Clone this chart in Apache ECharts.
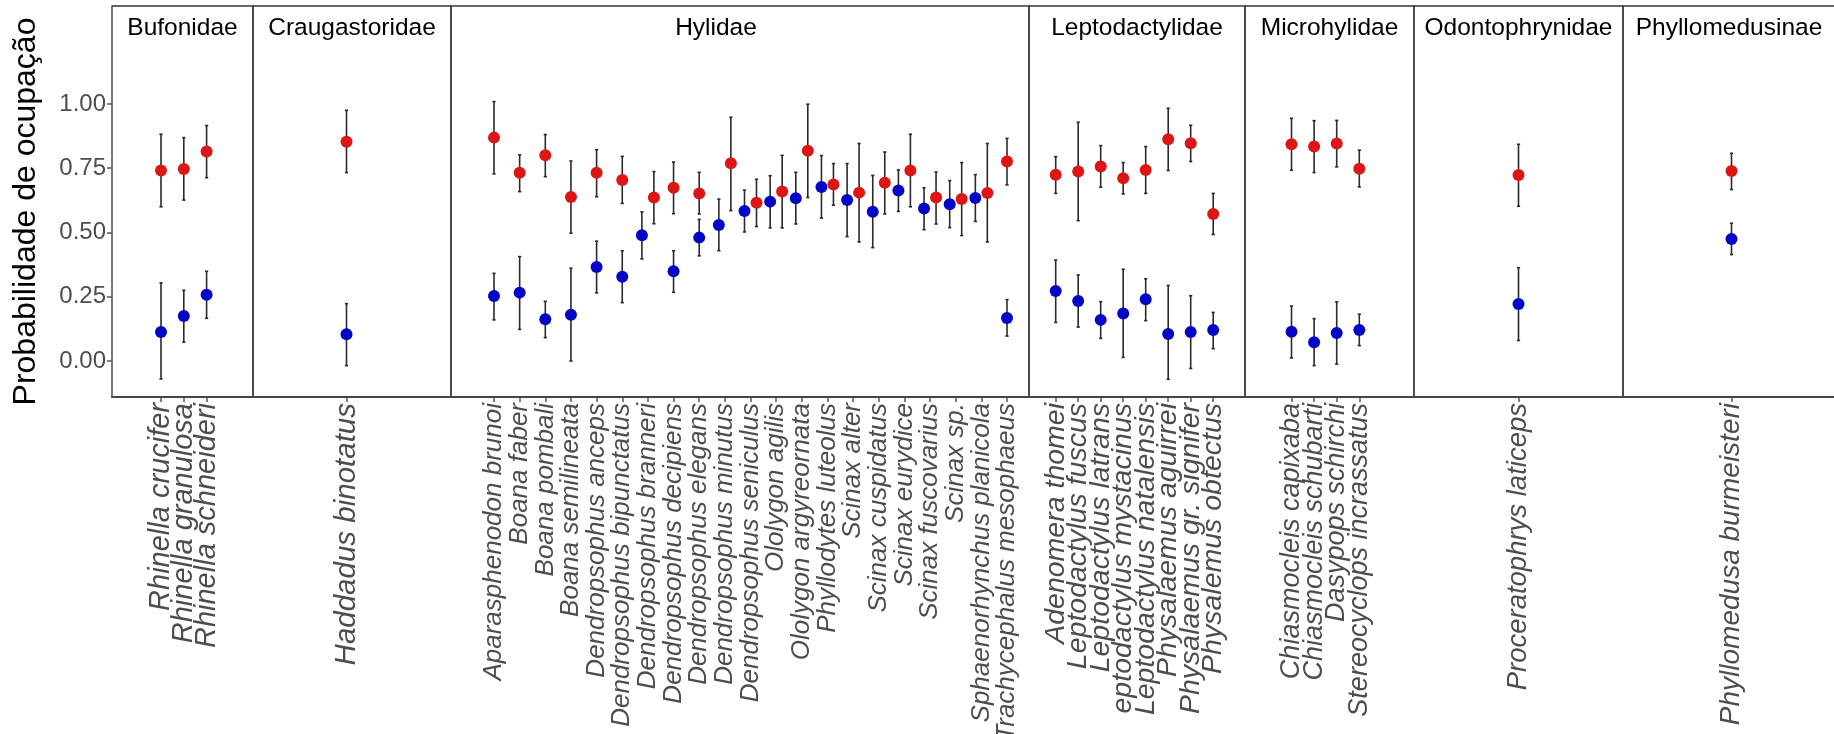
<!DOCTYPE html>
<html>
<head>
<meta charset="utf-8">
<script src="https://cdn.jsdelivr.net/npm/echarts@6/dist/echarts.min.js"></script>
<style>
html,body{margin:0;padding:0;background:#fff;}
#chart{width:1834px;height:734px;}
</style>
</head>
<body>
<div id="chart"></div>
<script>
// ---------------- DATA ----------------
const families = ['Bufonidae','Craugastoridae','Hylidae','Leptodactylidae','Microhylidae','Odontophrynidae','Phyllomedusinae'];

const species = [
  'Rhinella crucifer','Rhinella granulosa','Rhinella schneideri',
  'Haddadus binotatus',
  'Aparasphenodon brunoi','Boana faber','Boana pombali','Boana semilineata','Dendropsophus anceps',
  'Dendropsophus bipunctatus','Dendropsophus branneri','Dendropsophus decipiens','Dendropsophus elegans',
  'Dendropsophus minutus','Dendropsophus seniculus','Ololygon agilis','Ololygon argyreornata',
  'Phyllodytes luteolus','Scinax alter','Scinax cuspidatus','Scinax eurydice','Scinax fuscovarius',
  'Scinax sp.','Sphaenorhynchus planicola','Trachycephalus mesophaeus',
  'Adenomera thomei','Leptodactylus fuscus','Leptodactylus latrans','eptodactylus mystacinus',
  'Leptodactylus natalensis','Physalaemus aguirrei','Physalaemus gr. signifer','Physalemus obtectus',
  'Chiasmocleis capixaba','Chiasmocleis schubarti','Dasypops schirchi','Stereocyclops incrassatus',
  'Proceratophrys laticeps',
  'Phyllomedusa burmeisteri'
];

const speciesFamily = [
  'Bufonidae','Bufonidae','Bufonidae',
  'Craugastoridae',
  'Hylidae','Hylidae','Hylidae','Hylidae','Hylidae','Hylidae','Hylidae','Hylidae','Hylidae','Hylidae','Hylidae',
  'Hylidae','Hylidae','Hylidae','Hylidae','Hylidae','Hylidae','Hylidae','Hylidae','Hylidae','Hylidae',
  'Leptodactylidae','Leptodactylidae','Leptodactylidae','Leptodactylidae','Leptodactylidae','Leptodactylidae','Leptodactylidae','Leptodactylidae',
  'Microhylidae','Microhylidae','Microhylidae','Microhylidae',
  'Odontophrynidae',
  'Phyllomedusinae'
];

// red series (estimate + interval)
const redMean = [0.741,0.747,0.815, 0.853,
  0.869,0.732,0.800,0.638,0.732,0.704,0.636,0.674,0.652,0.769,0.616,0.659,0.818,0.687,0.655,0.693,0.741,0.636,0.630,0.654,0.776,
  0.725,0.737,0.757,0.711,0.743,0.863,0.847,0.572,
  0.843,0.834,0.846,0.748,
  0.724,
  0.739];
const redLow = [0.600,0.626,0.713, 0.733,
  0.728,0.659,0.717,0.497,0.639,0.613,0.534,0.573,0.572,0.585,0.523,0.518,0.636,0.606,0.463,0.572,0.600,0.533,0.488,0.463,0.685,
  0.652,0.546,0.676,0.650,0.652,0.741,0.776,0.492,
  0.742,0.733,0.755,0.677,
  0.602,
  0.667];
const redHigh = [0.882,0.869,0.916, 0.975,
  1.009,0.802,0.881,0.778,0.822,0.796,0.737,0.774,0.734,0.948,0.707,0.800,0.999,0.768,0.846,0.813,0.882,0.735,0.772,0.846,0.866,
  0.795,0.929,0.838,0.772,0.834,0.983,0.917,0.652,
  0.944,0.935,0.936,0.820,
  0.843,
  0.808];

// blue series (estimate + interval)
const blueMean = [0.113,0.175,0.258, 0.104,
  0.253,0.266,0.162,0.180,0.366,0.328,0.489,0.349,0.480,0.529,0.584,0.620,0.633,0.677,0.626,0.581,0.663,0.593,0.610,0.634,0.167,
  0.272,0.233,0.160,0.185,0.240,0.105,0.113,0.121,
  0.114,0.073,0.109,0.121,
  0.222,
  0.475];
const blueLow = [-0.070,0.073,0.166, -0.018,
  0.160,0.123,0.091,0.000,0.265,0.227,0.397,0.267,0.409,0.429,0.502,0.518,0.533,0.556,0.484,0.441,0.582,0.511,0.519,0.543,0.097,
  0.150,0.132,0.088,0.014,0.157,-0.071,-0.029,0.048,
  0.012,-0.018,-0.012,0.060,
  0.080,
  0.414];
const blueHigh = [0.304,0.275,0.349, 0.223,
  0.341,0.406,0.232,0.361,0.466,0.429,0.580,0.429,0.551,0.630,0.665,0.721,0.734,0.799,0.768,0.722,0.743,0.674,0.702,0.725,0.239,
  0.393,0.335,0.231,0.357,0.320,0.294,0.254,0.189,
  0.214,0.165,0.230,0.182,
  0.363,
  0.536];

const yTicks = [0, 0.25, 0.5, 0.75, 1];
const yTitle = 'Probabilidade de ocupação';

// ---------------- LAYOUT / STYLE ----------------
// panel: [frame left px, frame width px, x of first tick px, tick step px, label font px]
const panelLayout = [
  [112,141,161,22.8,29],[253,198,346.5,100,29.5],[451,578,494,25.65,26],[1029,216,1055.7,22.5,28.5],
  [1245,169,1291.5,22.6,27],[1414,209,1518.5,100,27.5],[1623,218,1731.5,100,28]
];
const titleX = [182.5,352,716,1137,1329.5,1518.5,1729];
const TOP = 6, HEIGHT = 391;
const Y_MIN = -0.14, Y_MAX = 1.381;
const FONT = '"Liberation Sans", Arial, Helvetica, sans-serif';
const RED = '#dd1515', BLUE = '#0505c8', BAR = '#2a2a2a';
const DODGE = 6;
const NP = families.length;

const grids = [], xAxes = [], yAxes = [], series = [];

// frame grids (panel borders, bottom axis line, y axis labels)
families.forEach((fam, k) => {
  const [L, W] = panelLayout[k];
  grids.push({left: L, top: TOP, width: W, height: HEIGHT, show: true,
    outerBoundsMode: 'none', containLabel: false,
    borderColor: '#333', borderWidth: 1.3, backgroundColor: 'transparent'});
  xAxes.push({gridIndex: k, type: 'value', min: 0, max: 1,
    axisLine: {show: true, onZero: false, lineStyle: {color: '#444', width: 2}},
    axisTick: {show: false}, axisLabel: {show: false}, splitLine: {show: false}});
  yAxes.push({gridIndex: k, type: 'value', min: Y_MIN, max: Y_MAX, show: k === 0,
    axisLine: {show: false, onZero: false},
    axisTick: {show: true, customValues: yTicks, length: 5, lineStyle: {color: '#555', width: 1.5}},
    axisLabel: {customValues: yTicks, margin: 6, formatter: v => v.toFixed(2),
      fontSize: 24, color: '#4d4d4d', fontFamily: FONT},
    splitLine: {show: false}});
});

// data grids (category axes spanning the ticks of each panel)
families.forEach((fam, k) => {
  const idx = species.map((s, i) => i).filter(i => speciesFamily[i] === fam);
  const names = idx.map(i => species[i]);
  const [L, W, p0, step, fs] = panelLayout[k];
  const g = NP + k;

  grids.push({left: p0 - step / 2, top: TOP, width: names.length * step, height: HEIGHT, show: false,
    outerBoundsMode: 'none', containLabel: false});

  xAxes.push({
    gridIndex: g, type: 'category', data: names, boundaryGap: true,
    axisLine: {show: false, onZero: false},
    axisTick: {show: true, alignWithLabel: true, interval: 0, length: 5, lineStyle: {color: '#555', width: 1.5}},
    axisLabel: {interval: 0, rotate: 90, margin: 6, hideOverlap: false,
      fontSize: fs, fontStyle: 'italic', color: '#4d4d4d', fontFamily: FONT},
    splitLine: {show: false}
  });
  yAxes.push({gridIndex: g, type: 'value', min: Y_MIN, max: Y_MAX, show: false});

  // dodge the two estimates apart when their intervals overlap
  const dodge = idx.map(i => (redLow[i] <= blueHigh[i] && blueLow[i] <= redHigh[i]) ? DODGE : 0);

  const barData = [];
  idx.forEach((i, j) => {
    barData.push([j, blueLow[i], blueHigh[i], -dodge[j]]);
    barData.push([j, redLow[i], redHigh[i], dodge[j]]);
  });

  series.push({
    type: 'custom', xAxisIndex: g, yAxisIndex: g, silent: true, clip: false, z: 1,
    encode: {x: 0, y: [1, 2]},
    renderItem: (params, api) => {
      const x = api.value(0), dx = api.value(3);
      const a = api.coord([x, api.value(1)]), b = api.coord([x, api.value(2)]);
      const cx = a[0] + dx;
      const st = {stroke: BAR, lineWidth: 1.6};
      return {type: 'group', children: [
        {type: 'line', shape: {x1: cx, y1: a[1], x2: cx, y2: b[1]}, style: st},
        {type: 'line', shape: {x1: cx - 1.6, y1: a[1], x2: cx + 1.6, y2: a[1]}, style: st},
        {type: 'line', shape: {x1: cx - 1.6, y1: b[1], x2: cx + 1.6, y2: b[1]}, style: st}
      ]};
    },
    data: barData
  });

  series.push({
    type: 'scatter', xAxisIndex: g, yAxisIndex: g, silent: true, z: 3,
    symbol: 'circle', symbolSize: 12, itemStyle: {color: BLUE, opacity: 1},
    data: idx.map((i, j) => ({value: [j, blueMean[i]], symbolOffset: [-dodge[j], 0]}))
  });
  series.push({
    type: 'scatter', xAxisIndex: g, yAxisIndex: g, silent: true, z: 3,
    symbol: 'circle', symbolSize: 12, itemStyle: {color: RED, opacity: 1},
    data: idx.map((i, j) => ({value: [j, redMean[i]], symbolOffset: [dodge[j], 0]}))
  });
});

const graphic = [{
  type: 'text', x: 26.5, y: 211.5, rotation: Math.PI / 2,
  style: {text: yTitle, fill: '#000', fontSize: 32, fontFamily: FONT,
    align: 'center', verticalAlign: 'middle', textAlign: 'center', textVerticalAlign: 'middle'}
}];
families.forEach((f, k) => graphic.push({
  type: 'text', x: titleX[k], y: 28,
  style: {text: f, fill: '#000', fontSize: 24.5, fontFamily: FONT,
    align: 'center', verticalAlign: 'middle', textAlign: 'center', textVerticalAlign: 'middle'}
}));

const chart = echarts.init(document.getElementById('chart'), null, {renderer: 'canvas'});
chart.setOption({
  animation: false,
  backgroundColor: '#fff',
  grid: grids, xAxis: xAxes, yAxis: yAxes, series: series, graphic: graphic
});
</script>
</body>
</html>
